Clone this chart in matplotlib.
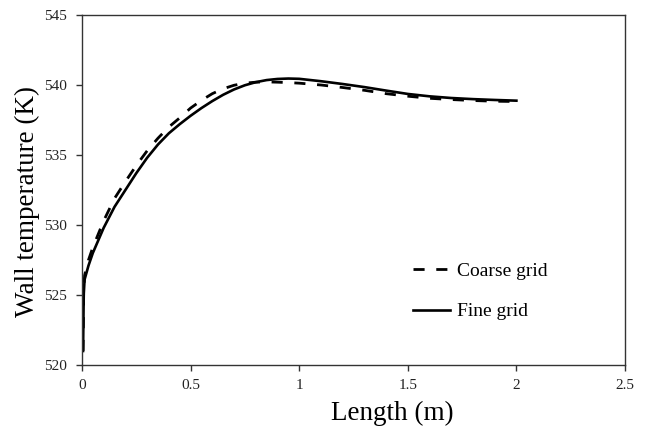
import matplotlib
matplotlib.use("Agg")
import matplotlib.pyplot as plt

plt.rcParams['font.family'] = ['Liberation Serif', 'DejaVu Serif']

# Wall temperature along the channel for two mesh resolutions
length_m = [0.005, 0.008, 0.012, 0.03, 0.05, 0.1, 0.15, 0.2, 0.25, 0.3, 0.35,
            0.4, 0.45, 0.5, 0.55, 0.6, 0.65, 0.7, 0.75, 0.8, 0.85, 0.9, 0.95,
            1.0, 1.1, 1.2, 1.3, 1.4, 1.5, 1.6, 1.7, 1.8, 1.9, 2.0]

fine_grid = [521.0, 525.0, 526.1, 527.1, 528.0, 529.8, 531.3, 532.5, 533.7,
             534.8, 535.75, 536.55, 537.2, 537.8, 538.35, 538.85, 539.3,
             539.68, 539.98, 540.2, 540.35, 540.43, 540.46, 540.44, 540.27,
             540.07, 539.85, 539.6, 539.36, 539.19, 539.07, 538.99, 538.93,
             538.88]

coarse_grid = [521.0, 525.3, 526.4, 527.5, 528.4, 530.3, 531.9, 533.1, 534.25,
               535.3, 536.2, 537.0, 537.65, 538.35, 538.9, 539.38, 539.73,
               539.98, 540.13, 540.2, 540.22, 540.2, 540.17, 540.13, 540.0,
               539.82, 539.62, 539.38, 539.2, 539.05, 538.96, 538.89, 538.84,
               538.82]

x_ticks = [0, 0.5, 1, 1.5, 2, 2.5]
x_tick_labels = ['0', '0.5', '1', '1.5', '2', '2.5']
y_ticks = [520, 525, 530, 535, 540, 545]

fig = plt.figure(figsize=(6.48, 4.28), dpi=100)
ax = fig.add_axes([0.1265, 0.1472, 0.838, 0.8178])

ax.plot(length_m, coarse_grid, color='black', lw=2.0, dashes=(4.0, 4.2),
        label='Coarse grid')
ax.plot(length_m, fine_grid, color='black', lw=1.9, label='Fine grid')

ax.set_xlim(0, 2.5)
ax.set_ylim(520, 545)
ax.set_xticks(x_ticks)
ax.set_xticklabels(x_tick_labels)
ax.set_yticks(y_ticks)

for s in ax.spines.values():
    s.set_color('#333333')
    s.set_linewidth(1.0)
ax.tick_params(direction='out', length=4, width=1.0, color='#333333',
               labelsize=11, labelcolor='#222222', top=False, right=False)
ax.tick_params(axis='x', pad=6)
ax.tick_params(axis='y', pad=7)

ax.set_xlabel('Length (m)', fontsize=19.5)
ax.set_ylabel('Wall temperature (K)', fontsize=19.5)
ax.xaxis.set_label_coords(0.571, -0.103)
ax.yaxis.set_label_coords(-0.077, 0.466)

fig.legend(loc='upper left', bbox_to_anchor=(0.637, 0.388), frameon=False,
           fontsize=14, handlelength=1.9, handletextpad=0.4, labelspacing=1.2,
           borderpad=0, borderaxespad=0)

fig.savefig('out.png', dpi=100)
